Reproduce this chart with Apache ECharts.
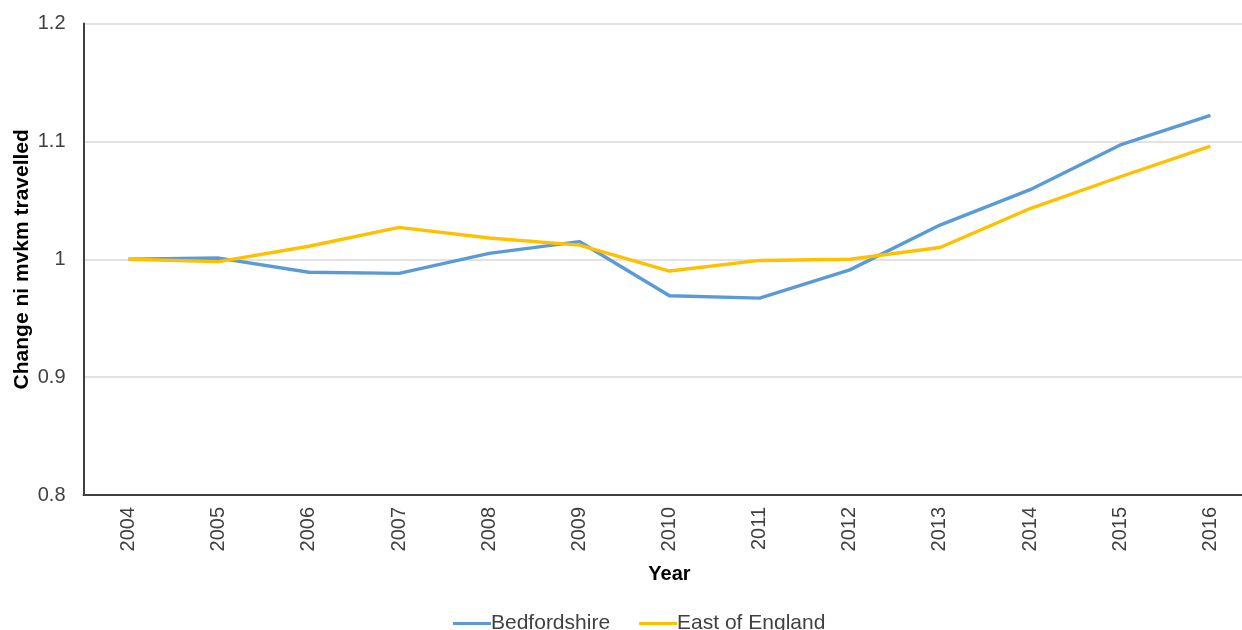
<!DOCTYPE html>
<html>
<head>
<meta charset="utf-8">
<script src="https://cdn.jsdelivr.net/npm/echarts@6/dist/echarts.min.js"></script>
<style>
html,body{margin:0;padding:0;background:#fff;}
#chart{width:1242px;height:630px;}
</style>
</head>
<body>
<div id="chart"></div>
<script>
const years = ['2004','2005','2006','2007','2008','2009','2010','2011','2012','2013','2014','2015','2016'];
const bedfordshire = [1.000, 1.001, 0.989, 0.988, 1.005, 1.015, 0.969, 0.967, 0.991, 1.029, 1.059, 1.097, 1.122];
const eastOfEngland = [1.000, 0.998, 1.011, 1.027, 1.018, 1.012, 0.990, 0.999, 1.000, 1.010, 1.043, 1.070, 1.096];
const yTicks = {min: 0.8, max: 1.2, interval: 0.1};

const chart = echarts.init(document.getElementById('chart'), null, {renderer: 'canvas'});
const font = 'Liberation Sans, Arial, sans-serif';
chart.setOption({
  animation: false,
  backgroundColor: '#ffffff',
  grid: {left: 83.5, top: 23.5, width: 1172, height: 471.5, containLabel: false, outerBoundsMode: 'none'},
  legend: {
    top: 608, left: 448,
    itemWidth: 38, itemHeight: 3, itemGap: 29,
    icon: 'rect',
    textStyle: {fontFamily: font, fontSize: 21, color: '#404040', padding: [0,0,0,-5]},
    data: ['Bedfordshire', 'East of England']
  },
  xAxis: {
    type: 'category',
    data: years,
    boundaryGap: true,
    name: 'Year',
    nameLocation: 'middle',
    nameGap: 69,
    nameMoveOverlap: false,
    nameTextStyle: {fontFamily: font, fontSize: 20, fontWeight: 'bold', color: '#000'},
    axisLine: {show: true, lineStyle: {color: '#404040', width: 2}},
    axisTick: {show: false},
    axisLabel: {rotate: 90, margin: 12, fontFamily: font, fontSize: 20, color: '#404040'},
    splitLine: {show: false}
  },
  yAxis: {
    type: 'value',
    min: yTicks.min, max: yTicks.max, interval: yTicks.interval,
    name: 'Change ni mvkm travelled',
    nameLocation: 'middle',
    nameGap: 51,
    nameMoveOverlap: false,
    nameTextStyle: {fontFamily: font, fontSize: 21, fontWeight: 'bold', color: '#000'},
    axisLine: {show: true, lineStyle: {color: '#404040', width: 2}},
    axisTick: {show: false},
    axisLabel: {margin: 18, fontFamily: font, fontSize: 20, color: '#404040',
      formatter: v => String(Math.round(v * 10) / 10)},
    splitLine: {show: true, lineStyle: {color: '#d9d9d9', width: 1.5}}
  },
  series: [
    {name: 'Bedfordshire', type: 'line', data: bedfordshire, symbol: 'none',
     lineStyle: {color: '#5B9BD5', width: 3.4}, itemStyle: {color: '#5B9BD5'}},
    {name: 'East of England', type: 'line', data: eastOfEngland, symbol: 'none',
     lineStyle: {color: '#FFC000', width: 3.4}, itemStyle: {color: '#FFC000'}}
  ]
});
</script>
</body>
</html>
